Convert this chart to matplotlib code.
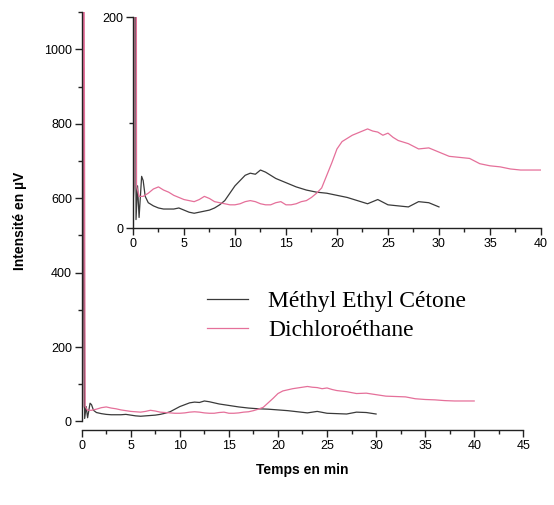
import matplotlib
matplotlib.use("Agg")
import matplotlib.pyplot as plt
from matplotlib.ticker import MultipleLocator

plt.rcParams['font.family'] = ['Liberation Sans Narrow', 'Liberation Sans', 'DejaVu Sans']

# Méthyl Ethyl Cétone (black)
mek_t = [0, 0.1, 0.2, 0.3, 0.45, 0.6, 0.85, 1.0, 1.2, 1.5, 2, 2.5, 3, 3.5, 4, 4.5, 5, 5.5,
         6, 6.5, 7, 7.5, 8, 8.5, 9, 9.5, 10, 10.5, 11, 11.5, 12, 12.5, 13, 13.5, 14, 14.5,
         15, 16, 17, 18, 19, 20, 21, 22, 23, 24, 25, 26, 27, 28, 29, 30]
mek_v = [20, 40, 950, 8, 40, 10, 49, 45, 30, 24, 21, 19, 18, 18, 18, 19, 17, 15,
         14, 15, 16, 17, 19, 22, 26, 33, 40, 45, 50, 52, 51, 55, 53, 50, 47, 45,
         43, 39, 36, 34, 33, 31, 29, 26, 23, 27, 22, 21, 20, 25, 24, 20]

# Dichloroéthane (pink)
dce_t = [0, 0.1, 0.15, 0.25, 0.35, 0.6, 1, 1.5, 2, 2.5, 3, 3.5, 4, 4.5, 5, 5.5, 6, 6.5,
         7, 7.5, 8, 8.5, 9, 9.5, 10, 10.5, 11, 11.5, 12, 12.5, 13, 13.5, 14, 14.5, 15,
         15.5, 16, 16.5, 17, 17.5, 18, 18.5, 19, 19.5, 20, 20.5, 21, 21.5, 22, 22.5, 23,
         23.5, 24, 24.5, 25, 25.5, 26, 27, 28, 29, 30, 31, 32, 33, 34, 35, 36, 37, 38,
         39, 40]
dce_v = [30, 40, 1200, 1150, 40, 30, 30, 33, 37, 39, 36, 34, 31, 29, 27, 26, 25, 27,
         30, 28, 25, 24, 23, 22, 22, 23, 25, 26, 25, 23, 22, 22, 24, 25, 22,
         22, 23, 25, 26, 29, 33, 38, 50, 62, 75, 82, 85, 88, 90, 92, 94,
         92, 91, 88, 90, 86, 83, 80, 75, 76, 72, 68, 67, 66, 61, 59, 58, 56, 55,
         55, 55]

BLACK = '#3a3a3a'
PINK = '#e5709a'

fig = plt.figure(figsize=(5.54, 5.05), dpi=100)


def style(ax):
    for s in ('top', 'right'):
        ax.spines[s].set_visible(False)
    for s in ('left', 'bottom'):
        ax.spines[s].set_color('#222222')
        ax.spines[s].set_linewidth(1.0)
    ax.tick_params(which='major', length=5, width=1, labelsize=9, pad=2, color='#222222')
    ax.tick_params(which='minor', length=3, width=1, color='#222222')


# main axes
ax = fig.add_axes([0.1475, 0.1485, 0.797, 0.8275])
ax.plot(mek_t, mek_v, color=BLACK, lw=0.9, label='Méthyl Ethyl Cétone')
ax.plot(dce_t, dce_v, color=PINK, lw=0.9, label='Dichloroéthane')
ax.set_xlim(0, 45)
ax.set_ylim(-23, 1100)
ax.spines['left'].set_bounds(0, 1100)
ax.xaxis.set_major_locator(MultipleLocator(5))
ax.xaxis.set_minor_locator(MultipleLocator(2.5))
ax.set_yticks([0, 200, 400, 600, 800, 1000])
ax.yaxis.set_minor_locator(MultipleLocator(100))
style(ax)
ax.set_xlabel('Temps en min', fontsize=10, fontweight='bold', labelpad=8)
ax.set_ylabel('Intensité en µV', fontsize=10, fontweight='bold', labelpad=12)

# legend placed in figure pixels (left edge of handles ~207px, centre ~315px)
leg = fig.legend(loc='center left', bbox_to_anchor=(195 / 554, 1 - 316 / 505), frameon=False,
                 borderpad=0, handlelength=1.75, handletextpad=0.85, labelspacing=0.3,
                 prop={'family': 'Liberation Serif', 'size': 17})

# inset
ins = fig.add_axes([0.240, 0.5485, 0.7365, 0.4175])
ins.plot(mek_t, mek_v, color=BLACK, lw=0.9)
ins.plot(dce_t, dce_v, color=PINK, lw=0.9)
ins.set_xlim(0, 40)
ins.set_ylim(0, 200)
ins.xaxis.set_major_locator(MultipleLocator(5))
ins.xaxis.set_minor_locator(MultipleLocator(2.5))
ins.set_yticks([0, 200])
ins.yaxis.set_minor_locator(MultipleLocator(100))
style(ins)
ins.patch.set_alpha(0)

fig.savefig('out.png', dpi=100)
